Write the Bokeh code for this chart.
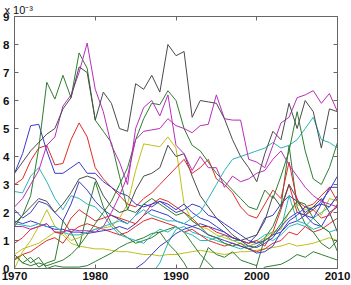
from bokeh.plotting import figure
from bokeh.models import Range1d, LinearAxis, FixedTicker, Title
from bokeh.embed import file_html
from bokeh.resources import INLINE

years = list(range(1970, 2011))
x_ticks = [1970, 1980, 1990, 2000, 2010]
y_ticks = [0, 1, 2, 3, 4, 5, 6, 7, 8, 9]

gray_top = [3.4,3.8,4.2,4.5,4.8,5.0,5.7,6.1,7.2,7.0,5.3,6.3,5.9,5.0,4.9,6.6,6.4,6.9,6.3,8.0,7.6,7.75,5.4,6.0,5.95,5.9,5.35,4.6,4.0,3.6,3.1,4.1,4.9,4.6,5.9,5.0,6.0,5.6,4.3,5.7,5.6]
mag_peak = [2.2,2.5,3.0,3.5,4.4,4.7,5.8,6.2,7.0,8.05,6.4,5.6,4.4,3.8,3.0,5.0,5.75,6.0,5.45,6.2,4.4,4.1,3.5,4.0,3.6,3.6,2.9,3.3,3.1,3.2,3.4,3.5,3.9,4.2,3.7,3.3,2.9,2.6,2.4,2.3,2.2]
mag_late = [1.5,1.5,1.4,1.5,1.6,1.3,1.3,1.4,1.35,1.35,1.3,1.5,2.0,2.6,3.3,4.6,4.9,4.95,5.0,5.35,5.1,5.0,4.85,5.1,5.15,6.2,5.35,5.3,5.3,3.9,3.8,3.6,4.4,5.2,5.4,6.1,6.2,6.35,5.9,6.25,5.6]
green_early = [1.5,1.9,2.6,4.3,6.65,6.05,6.9,6.1,7.7,7.15,5.3,4.9,4.5,3.3,2.1,2.0,2.3,2.5,2.3,2.1,1.9,2.0,1.7,1.5,1.2,1.1,0.9,0.8,0.9,0.7,0.8,1.0,1.2,1.6,2.0,2.4,2.3,1.8,1.5,1.3,0.6]
green_mid = [0.5,0.2,0.1,0.2,0.1,0.2,0.3,0.5,0.8,1.2,1.6,2.0,2.4,3.0,3.6,4.6,5.35,5.9,5.85,6.35,6.0,5.0,4.4,4.2,3.8,3.4,3.1,2.8,2.5,2.2,2.1,2.8,2.5,3.3,4.2,5.6,4.2,3.2,3.0,3.6,4.5]
green_smooth = [0.3,0.5,0.2,0.4,0.0,0.1,0.05,0.05,0.05,0.1,0.25,0.4,0.55,0.75,0.9,1.0,1.1,1.25,1.3,1.4,1.5,1.3,0.9,0.5,0.2,-0.1,-0.3,-0.3,-0.3,-0.3,-0.2,0.05,0.1,0.15,0.3,0.5,0.4,0.6,0.5,0.4,0.3]
green_spiky = [0.5,0.2,0.4,0.05,0.2,0.3,1.7,1.3,0.75,2.0,3.1,2.2,1.6,1.3,1.1,0.9,1.0,1.1,1.3,0.9,0.6,0.2,-0.3,0.05,0.75,0.5,0.4,0.6,0.3,0.2,0.1,1.1,1.5,2.2,4.4,2.2,1.6,1.3,0.9,0.7,1.0]
blue_high = [3.4,4.1,5.1,5.15,4.2,3.4,3.4,3.6,3.8,3.4,3.4,3.1,2.9,2.7,2.6,2.3,2.2,2.3,2.4,2.2,2.0,2.1,2.3,2.2,1.9,1.8,1.6,1.4,1.2,1.0,0.9,1.0,1.2,1.3,1.7,1.9,2.2,2.1,2.4,2.8,3.3]
blue_mid = [2.1,1.8,2.0,2.4,2.3,2.0,1.7,2.3,3.1,2.8,2.4,2.1,1.9,1.75,1.6,1.9,2.3,2.2,2.4,2.3,2.1,2.3,2.0,1.8,1.7,1.5,1.3,1.1,1.0,0.8,0.75,0.9,1.1,1.5,1.8,2.0,1.9,1.8,2.3,2.2,2.6]
blue_low = [1.7,1.6,1.7,1.6,1.5,1.4,1.4,1.3,1.3,1.25,1.3,1.35,1.4,1.5,1.4,1.6,1.9,2.1,2.0,1.9,1.7,1.6,1.5,1.4,1.2,1.1,1.0,0.9,0.8,0.7,0.55,0.6,0.8,1.3,1.6,1.7,1.9,1.6,1.5,2.0,2.2]
blue_rise = [-0.5,-0.5,-0.5,-0.5,-0.5,-0.5,-0.5,-0.5,-0.5,-0.5,-0.5,-0.5,-0.5,-0.5,-0.2,0.0,0.2,0.5,0.8,1.0,1.25,1.4,1.5,1.6,1.5,1.4,1.3,1.1,1.0,0.9,1.2,1.8,1.9,2.3,2.6,2.4,2.0,2.2,2.3,2.9,2.9]
red_peak = [3.0,3.2,3.85,4.3,4.4,3.7,3.75,4.6,5.2,4.7,3.6,3.2,2.9,2.6,2.3,2.2,2.5,2.7,3.0,3.3,3.6,3.9,3.4,3.6,3.9,3.2,3.0,2.7,2.2,1.9,1.8,2.3,2.8,2.5,3.8,2.4,2.2,2.3,2.6,2.9,2.4]
red_mid = [0.9,1.1,1.4,1.5,1.6,1.3,1.25,1.8,2.1,1.9,1.7,1.8,1.9,1.8,1.7,1.6,1.9,2.3,2.5,2.4,2.2,2.0,1.8,1.5,1.5,1.3,1.2,1.1,1.0,0.9,1.0,0.8,1.3,2.1,3.0,2.0,1.9,2.1,1.8,1.9,2.3]
red_low = [0.35,0.5,0.6,0.8,1.0,1.1,0.9,1.3,1.5,1.6,1.5,1.4,1.3,1.2,1.3,1.5,1.7,1.8,1.7,1.6,1.5,1.3,1.4,1.2,1.0,0.9,0.8,0.9,0.8,0.7,0.6,0.7,0.9,1.0,1.3,1.2,1.5,1.3,1.4,1.6,1.8]
cyan_early = [2.75,2.7,3.3,3.6,3.1,2.5,2.1,2.6,2.5,2.3,2.2,1.9,1.5,1.2,1.1,1.0,0.9,1.2,1.4,1.3,1.5,1.3,1.2,1.0,1.0,1.1,1.2,1.0,1.0,0.9,1.0,1.2,1.3,1.4,2.6,1.7,1.6,1.4,1.5,1.3,1.4]
cyan_late = [1.6,1.55,1.5,1.6,1.5,1.5,1.3,1.2,1.2,1.3,1.4,1.5,1.6,1.7,1.6,1.9,2.1,1.9,1.8,1.7,1.7,1.6,1.8,2.0,2.5,3.0,3.5,3.9,4.0,4.1,4.2,4.3,4.5,4.3,4.4,4.6,5.0,5.4,4.6,4.5,4.3]
cyan_rise = [-0.5,-0.5,-0.5,-0.5,-0.5,-0.5,-0.5,-0.5,-0.5,-0.5,-0.5,-0.5,-0.5,-0.5,-0.5,-0.5,-0.5,-0.2,0.2,0.9,1.4,1.5,1.3,1.2,1.1,1.0,0.9,0.8,0.7,0.8,0.9,1.1,1.0,1.2,1.5,1.6,1.5,1.8,2.0,2.2,2.6]
yellow_peak = [0.0,0.6,1.0,1.5,2.1,1.5,1.3,1.0,1.1,1.3,1.4,1.45,1.5,1.8,2.3,3.5,4.45,4.4,4.35,4.7,4.3,2.3,1.7,1.5,1.4,1.2,1.1,1.0,0.9,0.8,0.9,1.1,1.3,1.4,2.0,2.3,2.1,2.2,1.9,2.5,2.4]
yellow_low = [0.5,0.7,0.8,0.9,1.1,1.3,1.2,0.9,0.8,0.75,0.7,0.7,0.65,0.6,0.6,0.55,0.5,0.5,0.45,0.5,0.5,0.55,0.6,0.65,0.6,0.55,0.5,0.55,0.6,0.6,0.65,0.7,0.75,0.8,0.9,0.8,0.85,0.9,1.0,1.1,1.0]
gray_low = [1.6,1.9,2.2,2.5,2.4,2.0,2.3,2.7,3.2,3.3,3.2,2.6,2.2,2.0,2.1,2.8,3.3,3.4,3.6,4.4,4.0,4.1,3.3,2.6,2.2,1.8,1.5,1.2,1.0,1.1,1.2,1.7,2.6,2.2,3.0,2.5,1.9,2.2,2.5,2.0,1.3]

BLUE = "#3a3ac8"
GREEN = "#2e7d2e"
RED = "#e02a2a"
CYAN = "#2ab5b5"
MAG = "#b82db8"
YEL = "#bfbf1a"
GRAY = "#4a4a4a"

series = [
    (yellow_low, YEL), (green_smooth, GREEN), (cyan_rise, CYAN), (blue_rise, BLUE),
    (red_low, RED), (green_spiky, GREEN), (blue_low, BLUE), (cyan_early, CYAN),
    (red_mid, RED), (yellow_peak, YEL), (blue_mid, BLUE), (gray_low, GRAY),
    (red_peak, RED), (blue_high, BLUE), (cyan_late, CYAN), (green_early, GREEN),
    (green_mid, GREEN), (mag_late, MAG), (mag_peak, MAG), (gray_top, GRAY),
]

FONT = "Liberation Sans"
AXC = "#666666"

p = figure(width=351, height=285, output_backend="svg", toolbar_location=None,
           x_range=Range1d(1970, 2010), y_range=Range1d(0, 9),
           min_border_left=14, min_border_right=14, min_border_top=16, min_border_bottom=17)
p.background_fill_color = "white"
p.border_fill_color = "white"
p.outline_line_color = AXC
p.xgrid.visible = False
p.ygrid.visible = False

for vals, col in series:
    p.line(years, vals, line_color=col, line_width=1)

for ax, ticks in ((p.xaxis[0], x_ticks), (p.yaxis[0], y_ticks)):
    ax.ticker = FixedTicker(ticks=ticks)
    ax.major_tick_in = 4
    ax.major_tick_out = 0
    ax.minor_tick_line_color = None
    ax.axis_line_color = AXC
    ax.major_tick_line_color = AXC
    ax.major_label_text_font = FONT
    ax.major_label_text_font_style = "bold"
    ax.major_label_text_font_size = "11.5px"
    ax.major_label_text_color = "#111111"
p.xaxis[0].major_label_standoff = 3
p.yaxis[0].major_label_standoff = 5

# box ticks on top and right (no labels): drawn as minor ticks
top = LinearAxis(ticker=FixedTicker(ticks=[], minor_ticks=x_ticks))
right = LinearAxis(ticker=FixedTicker(ticks=[], minor_ticks=y_ticks))
for ax in (top, right):
    ax.minor_tick_in = 4
    ax.minor_tick_out = 0
    ax.major_tick_in = 0
    ax.major_tick_out = 0
    ax.axis_line_color = AXC
    ax.minor_tick_line_color = AXC
    ax.major_label_standoff = 0
p.add_layout(top, "above")
p.add_layout(right, "right")

title = Title(text="x 10\u207b\u00b3", align="left", text_font=FONT,
              text_font_size="11px", text_font_style="normal", text_color="#111111",
              standoff=1, offset=-10)
p.add_layout(title, "above")

open("out.html", "w").write(file_html(p, INLINE))
